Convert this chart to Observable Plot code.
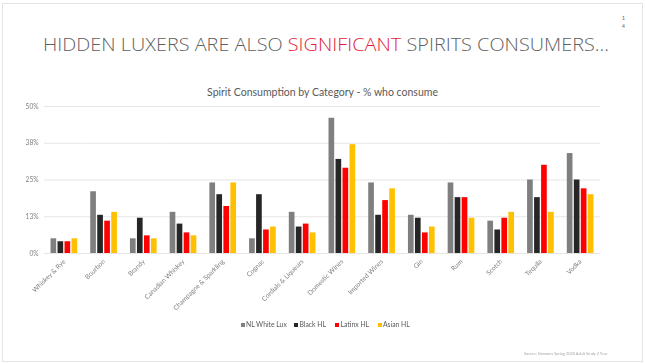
<!DOCTYPE html>
<html>
<head>
<meta charset="utf-8">
<script src="https://cdn.jsdelivr.net/npm/d3@7"></script>
<script src="https://cdn.jsdelivr.net/npm/@observablehq/plot@0.6"></script>
<style>
  html, body { margin: 0; padding: 0; background: #fff; }
  #slide { position: relative; width: 645px; height: 363px; overflow: hidden; background: #fff; font-family: Lato, "Open Sans", sans-serif; }
  #frame { position: absolute; left: 2px; top: 3px; width: 639px; height: 357px; border: 1px solid #e4e4e4; }
  #title { position: absolute; left: 0; top: 0; }
  #ctitle { position: absolute; left: 0; width: 645px; top: 86px; text-align: center; font-size: 10.5px; color: #595959; }
  #chart { position: absolute; left: 0; top: 95px; will-change: transform; }
  #chart svg text { fill: #7f7f7f !important; }
  #legend { position: absolute; top: 320px; left: 0; width: 645px; font-size: 6.8px; color: #595959; }
  #legend span.item { position: absolute; white-space: nowrap; }
  #legend span.sw { display: inline-block; width: 4px; height: 4px; margin-right: 1.5px; vertical-align: 0px; }
  #source { position: absolute; left: 524px; top: 351px; font-size: 3.9px; color: #a6a6a6; white-space: nowrap; }
  #pagenum { position: absolute; left: 621px; top: 15px; font-size: 5px; line-height: 7.5px; color: #595959; text-align: center; width: 5px; }
</style>
</head>
<body>
<div id="slide">
  <div id="frame"></div>
  <svg id="title" width="645" height="70"></svg>
  <div id="pagenum">1<br>4</div>
  <div id="ctitle">Spirit Consumption by Category - % who consume</div>
  <div id="chart"></div>
  <div id="legend"></div>
  <div id="source">Source: Simmons Spring 2020 Adult Study 2 Year</div>
</div>
<script>
const categories = ["Whiskey & Rye","Bourbon","Brandy","Canadian Whiskey","Champagne & Sparkling","Cognac","Cordials & Liqueurs","Domestic Wines","Imported Wines","Gin","Rum","Scotch","Tequila","Vodka"];
const series = ["NL White Lux","Black HL","Latinx HL","Asian HL"];
const colors = ["#7f7f7f","#262626","#ff0000","#ffc000"];
const nlWhiteLux = [5,21,5,14,24,5,14,46,24,13,24,11,25,34];
const blackHL   = [4,13,12,10,20,20,9,32,13,12,19,8,19,25];
const latinxHL  = [4,11,6,7,16,8,10,29,18,7,19,12,30,22];
const asianHL   = [5,14,5,6,24,9,7,37,22,9,12,14,14,20];
const yTicks = [0,12.5,25,37.5,50];
const legendX = [240.5,294,335,377.5];

const seriesValues = [nlWhiteLux, blackHL, latinxHL, asianHL];
const data = [];
categories.forEach((c, i) => series.forEach((s, j) => data.push({category: c, series: s, value: seriesValues[j][i]})));

// Title
const tsvg = d3.select("#title");
const t = tsvg.append("text")
  .attr("x", 43).attr("y", 51)
  .attr("textLength", 566).attr("lengthAdjust", "spacingAndGlyphs")
  .style("font-family", "'Open Sans', Lato, sans-serif")
  .style("font-weight", 300)
  .style("font-size", "19px")
  .attr("fill", "#5f5f5f");
t.append("tspan").text("HIDDEN LUXERS ARE ALSO ");
t.append("tspan").attr("fill", "#e31b3c").text("SIGNIFICANT");
t.append("tspan").text(" SPIRITS CONSUMERS…");

const plot = Plot.plot({
  width: 645,
  height: 230,
  marginLeft: 44,
  marginRight: 45,
  marginTop: 11,
  marginBottom: 72,
  style: {fontFamily: "Lato, 'Open Sans', sans-serif", fontSize: "6.6px", color: "#000", background: "transparent", overflow: "visible"},
  fx: {domain: categories, padding: 0, round: false, tickRotate: -45, tickSize: 0, tickPadding: 7, label: null},
  x: {domain: series, axis: null, paddingInner: 0.19, paddingOuter: 0.93, round: false},
  y: {domain: [0, 50], ticks: yTicks, tickFormat: d => Math.round(d) + "%", tickSize: 0, tickPadding: 6, grid: true, label: null},
  color: {domain: series, range: colors},
  marks: [
    Plot.barY(data, {fx: "category", x: "series", y: "value", fill: "series"})
  ]
});
d3.select(plot).selectAll("text").attr("fill", "#7f7f7f");
document.getElementById("chart").appendChild(plot);

// Legend
const leg = d3.select("#legend");
series.forEach((s, i) => {
  const it = leg.append("span").attr("class", "item").style("left", legendX[i] + "px");
  it.append("span").attr("class", "sw").style("background", colors[i]);
  it.append("span").text(s);
});
</script>
</body>
</html>
